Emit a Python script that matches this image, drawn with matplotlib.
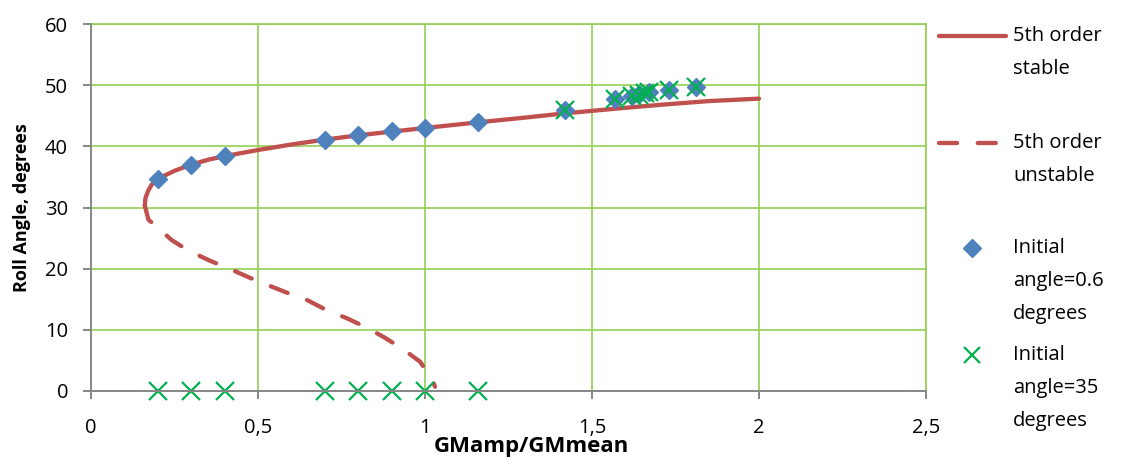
import numpy as np
import matplotlib.pyplot as plt
from matplotlib.lines import Line2D
from matplotlib.ticker import FuncFormatter

plt.rcParams['font.family'] = ['Open Sans', 'DejaVu Sans']

# 5th order backbone curve, stable branch
stable_x = [0.161, 0.163, 0.170, 0.180, 0.197, 0.25, 0.30, 0.35, 0.40, 0.50, 0.60,
            0.70, 0.80, 0.90, 1.00, 1.155, 1.30, 1.42, 1.50, 1.60, 1.73, 1.85, 2.00]
stable_y = [30.3, 31.5, 32.6, 33.6, 34.6, 36.0, 37.0, 37.8, 38.4, 39.4, 40.3,
            41.1, 41.8, 42.4, 43.0, 43.9, 44.7, 45.4, 45.8, 46.3, 46.9, 47.4, 47.8]

# 5th order backbone curve, unstable branch
unstable_x = [0.161, 0.163, 0.172, 0.192, 0.241, 0.29, 0.356, 0.41, 0.476, 0.53, 0.59,
              0.646, 0.706, 0.766, 0.82, 0.874, 0.93, 0.985, 1.02, 1.03]
unstable_y = [30.3, 29.9, 28.0, 27.1, 24.7, 23.0, 21.3, 20.1, 18.5, 17.3, 16.0,
              14.9, 13.2, 11.9, 10.5, 8.9, 7.0, 4.8, 2.1, 0.7]

# simulations started at 0.6 degrees
small_x = [0.2, 0.3, 0.4, 0.7, 0.8, 0.9, 1.0, 1.16, 1.42, 1.57, 1.62, 1.64, 1.67, 1.73, 1.81]
small_y = [34.7, 37.0, 38.4, 41.1, 41.8, 42.5, 43.0, 44.0, 46.0, 47.7, 48.3, 48.6, 48.9, 49.2, 49.7]

# simulations started at 35 degrees
large_x = [0.2, 0.3, 0.4, 0.7, 0.8, 0.9, 1.0, 1.16, 1.42, 1.57, 1.62, 1.64, 1.66, 1.67, 1.73, 1.81]
large_y = [0, 0, 0, 0, 0, 0, 0, 0, 46.0, 47.7, 48.2, 48.4, 48.7, 48.9, 49.2, 49.7]

red = '#C0504D'
blue = '#4F81BD'
green = '#00B050'
grid_green = '#92D050'
grey = '#868686'
dash = (0, (4.2, 4.8))
fs = 14.5

fig = plt.figure(figsize=(11.26, 4.59), dpi=100)
ax = fig.add_axes([91/1126, 1 - 391/459, 835/1126, 367/459])

ax.plot(stable_x, stable_y, color=red, lw=3.1, solid_capstyle='round', zorder=3)
ax.plot(unstable_x, unstable_y, color=red, lw=3.1, linestyle=dash,
        dash_capstyle='round', zorder=3)
ax.plot(small_x, small_y, linestyle='none', marker='D', ms=9.5, color=blue,
        mec=blue, zorder=4)
ax.plot(large_x, large_y, linestyle='none', marker='x', ms=13, mew=1.6,
        color=green, zorder=5, clip_on=False)

ax.set_xlim(0, 2.5)
ax.set_ylim(0, 60)
ax.set_xticks(np.arange(0, 2.51, 0.5))
ax.set_yticks(np.arange(0, 61, 10))
ax.xaxis.set_major_formatter(FuncFormatter(lambda v, p: ('%g' % v).replace('.', ',')))

ax.grid(True, color=grid_green, lw=1.2)
ax.set_axisbelow(True)
for s in ['top', 'right']:
    ax.spines[s].set_color(grid_green)
    ax.spines[s].set_linewidth(1.2)
for s in ['left', 'bottom']:
    ax.spines[s].set_color(grey)
    ax.spines[s].set_linewidth(1.4)
    ax.spines[s].set_zorder(6)

ax.tick_params(axis='both', direction='out', length=5.5, width=1.4, color=grey,
               labelsize=fs, labelcolor='black')
ax.tick_params(axis='x', pad=14)
ax.tick_params(axis='y', pad=11)

ax.set_xlabel('GMamp/GMmean', fontsize=16, fontweight='bold', va='center')
ax.xaxis.set_label_coords(0.527, -0.152)
ax.set_ylabel('Roll Angle, degrees', fontsize=13, fontweight='bold', va='center')
ax.yaxis.set_label_coords(-0.083, 0.5)


# legend drawn by hand so the handle sits on the first text line
def fx(px):
    return px / 1126


def fy(py):
    return 1 - py / 459


entries = [
    ('line', '-', 36, ['5th order', 'stable']),
    ('line', dash, 143, ['5th order', 'unstable']),
    ('D', None, 248, ['Initial', 'angle=0.6', 'degrees']),
    ('x', None, 355, ['Initial', 'angle=35', 'degrees']),
]
for kind, ls, ypx, lines in entries:
    if kind == 'line':
        fig.add_artist(Line2D([fx(939), fx(1006)], [fy(ypx), fy(ypx)], color=red,
                              lw=3.1, linestyle=ls, solid_capstyle='round',
                              dash_capstyle='round', transform=fig.transFigure))
    elif kind == 'D':
        fig.add_artist(Line2D([fx(972)], [fy(ypx)], marker='D', ms=9.5, color=blue,
                              linestyle='none', transform=fig.transFigure))
    else:
        fig.add_artist(Line2D([fx(972)], [fy(ypx)], marker='x', ms=12, mew=1.6,
                              color=green, linestyle='none', transform=fig.transFigure))
    for i, t in enumerate(lines):
        fig.text(fx(1013), fy(ypx + 33 * i), t, fontsize=fs, va='center', ha='left')

fig.savefig('out.png', dpi=100)
